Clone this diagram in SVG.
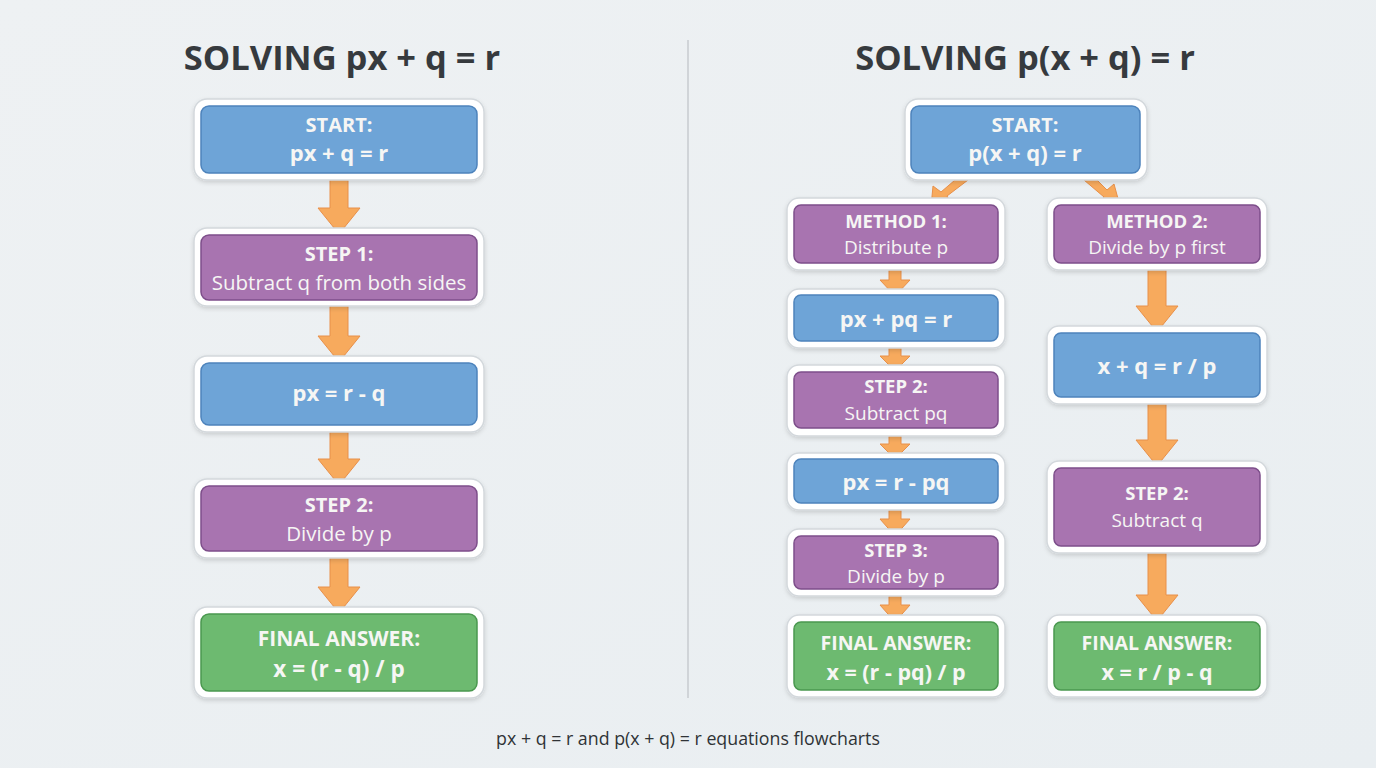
<svg xmlns="http://www.w3.org/2000/svg" width="1376" height="768" viewBox="0 0 1376 768">
<defs>
<linearGradient id="bg" x1="0" y1="0" x2="1" y2="1">
<stop offset="0" stop-color="#eef1f3"/><stop offset="1" stop-color="#e9eef1"/>
</linearGradient>
<filter id="sh" x="-10%" y="-10%" width="120%" height="130%">
<feDropShadow dx="0" dy="2" stdDeviation="2" flood-color="#000" flood-opacity="0.14"/>
</filter>
<style>
.frame{fill:#ffffff;stroke:#d3d8dc;stroke-width:1.5;filter:url(#sh)}
.blue{fill:#6ea4d7;stroke:#4d83bc;stroke-width:1.5}
.purple{fill:#a874b0;stroke:#7d4e8a;stroke-width:1.5}
.green{fill:#6dba70;stroke:#4a984f;stroke-width:1.5}
.arrow{fill:#f7aa5d;stroke:#e8904a;stroke-width:1}
.title{font-family:"Open Sans","Liberation Sans",sans-serif;font-weight:700;font-size:34.5px;fill:#363a3e;text-anchor:middle}
.b{font-family:"Open Sans","Liberation Sans",sans-serif;font-weight:700;fill:#f6f6f4;text-anchor:middle}
.r{font-family:"Open Sans","Liberation Sans",sans-serif;font-weight:400;fill:#f6f6f4;text-anchor:middle}
.cap{font-family:"Open Sans","Liberation Sans",sans-serif;font-size:17.8px;fill:#2f3336;text-anchor:middle}
</style>
</defs>
<rect width="1376" height="768" fill="url(#bg)"/>
<line x1="688" y1="40" x2="688" y2="698" stroke="#c7cbcf" stroke-width="1.5"/>
<text class="title" x="342" y="70">SOLVING px + q = r</text>
<text class="title" x="1025" y="70">SOLVING p(x + q) = r</text>

<g id="connectors">
<polygon class="arrow" points="330,180 348,180 348,208 360,208 339,234 318,208 330,208"/>
<polygon class="arrow" points="330,306 348,306 348,336 360,336 339,362 318,336 330,336"/>
<polygon class="arrow" points="330,432 348,432 348,459 360,459 339,485 318,459 330,459"/>
<polygon class="arrow" points="330,558 348,558 348,587 360,587 339,613 318,587 330,587"/>

<polygon class="arrow" points="955,180 968,180 947,196 952,205 931,207 933,186 941,192"/>
<polygon class="arrow" points="1084,180 1097,180 1107,190 1114,184 1120,206 1099,204 1104,197"/>

<polygon class="arrow" points="889,270 901,270 901,280 910,280 895,296 880,280 889,280"/>
<polygon class="arrow" points="889,348 901,348 901,356 910,356 895,371 880,356 889,356"/>
<polygon class="arrow" points="889,436 901,436 901,444 910,444 895,459 880,444 889,444"/>
<polygon class="arrow" points="889,510 901,510 901,519 910,519 895,536 880,519 889,519"/>
<polygon class="arrow" points="889,596 901,596 901,605 910,605 895,622 880,605 889,605"/>

<polygon class="arrow" points="1148,270 1166,270 1166,306 1178,306 1157,332 1136,306 1148,306"/>
<polygon class="arrow" points="1148,404 1166,404 1166,440 1178,440 1157,466 1136,440 1148,440"/>
<polygon class="arrow" points="1148,553 1166,553 1166,595 1178,595 1157,621 1136,595 1148,595"/>
</g>

<g id="l-start">
<rect class="frame" x="194" y="99" width="290" height="81" rx="13"/>
<rect class="blue" x="201" y="106" width="276" height="67" rx="8"/>
<text class="b" x="339" y="132" font-size="20">START:</text>
<text class="b" x="339" y="161" font-size="22">px + q = r</text>
</g>
<g id="l-step1">
<rect class="frame" x="194" y="228" width="290" height="78" rx="13"/>
<rect class="purple" x="201" y="235" width="276" height="65" rx="8"/>
<text class="b" x="339" y="261" font-size="20">STEP 1:</text>
<text class="r" x="339" y="290" font-size="20.5">Subtract q from both sides</text>
</g>
<g id="l-eq">
<rect class="frame" x="194" y="356" width="290" height="76" rx="13"/>
<rect class="blue" x="201" y="363" width="276" height="62" rx="8"/>
<text class="b" x="339" y="401" font-size="22">px = r - q</text>
</g>
<g id="l-step2">
<rect class="frame" x="194" y="479" width="290" height="79" rx="13"/>
<rect class="purple" x="201" y="486" width="276" height="65" rx="8"/>
<text class="b" x="339" y="512" font-size="20">STEP 2:</text>
<text class="r" x="339" y="541" font-size="20.5">Divide by p</text>
</g>
<g id="l-final">
<rect class="frame" x="194" y="607" width="290" height="91" rx="13"/>
<rect class="green" x="201" y="614" width="276" height="77" rx="8"/>
<text class="b" x="339" y="646" font-size="21">FINAL ANSWER:</text>
<text class="b" x="339" y="677" font-size="22.5">x = (r - q) / p</text>
</g>

<g id="r-start">
<rect class="frame" x="905" y="99" width="242" height="81" rx="13"/>
<rect class="blue" x="911" y="106" width="229" height="67" rx="8"/>
<text class="b" x="1025" y="132" font-size="20">START:</text>
<text class="b" x="1025" y="161" font-size="22">p(x + q) = r</text>
</g>
<g id="m1">
<rect class="frame" x="787" y="198" width="218" height="72" rx="12"/>
<rect class="purple" x="794" y="205" width="204" height="58" rx="7"/>
<text class="b" x="896" y="228" font-size="18.5">METHOD 1:</text>
<text class="r" x="896" y="254" font-size="19">Distribute p</text>
</g>
<g id="m2">
<rect class="frame" x="1047" y="198" width="220" height="72" rx="12"/>
<rect class="purple" x="1054" y="205" width="206" height="58" rx="7"/>
<text class="b" x="1157" y="228" font-size="18.5">METHOD 2:</text>
<text class="r" x="1157" y="254" font-size="19">Divide by p first</text>
</g>
<g id="m1-eq1">
<rect class="frame" x="787" y="289" width="218" height="59" rx="12"/>
<rect class="blue" x="794" y="295" width="204" height="46" rx="7"/>
<text class="b" x="896" y="327" font-size="22">px + pq = r</text>
</g>
<g id="m1-step2">
<rect class="frame" x="787" y="365" width="218" height="71" rx="12"/>
<rect class="purple" x="794" y="372" width="204" height="56" rx="7"/>
<text class="b" x="896" y="393" font-size="18.5">STEP 2:</text>
<text class="r" x="896" y="420" font-size="19">Subtract pq</text>
</g>
<g id="m1-eq2">
<rect class="frame" x="787" y="453" width="218" height="57" rx="12"/>
<rect class="blue" x="794" y="459" width="204" height="44" rx="7"/>
<text class="b" x="896" y="490" font-size="22">px = r - pq</text>
</g>
<g id="m1-step3">
<rect class="frame" x="787" y="529" width="218" height="67" rx="12"/>
<rect class="purple" x="794" y="536" width="204" height="53" rx="7"/>
<text class="b" x="896" y="557" font-size="18.5">STEP 3:</text>
<text class="r" x="896" y="583" font-size="19">Divide by p</text>
</g>
<g id="m1-final">
<rect class="frame" x="787" y="615" width="218" height="82" rx="12"/>
<rect class="green" x="794" y="622" width="204" height="68" rx="7"/>
<text class="b" x="896" y="650" font-size="19.5">FINAL ANSWER:</text>
<text class="b" x="896" y="680" font-size="21.5">x = (r - pq) / p</text>
</g>
<g id="m2-eq">
<rect class="frame" x="1047" y="326" width="220" height="78" rx="12"/>
<rect class="blue" x="1054" y="333" width="206" height="64" rx="7"/>
<text class="b" x="1157" y="374" font-size="22">x + q = r / p</text>
</g>
<g id="m2-step2">
<rect class="frame" x="1047" y="461" width="220" height="92" rx="12"/>
<rect class="purple" x="1054" y="468" width="206" height="78" rx="7"/>
<text class="b" x="1157" y="500" font-size="18.5">STEP 2:</text>
<text class="r" x="1157" y="527" font-size="19">Subtract q</text>
</g>
<g id="m2-final">
<rect class="frame" x="1047" y="615" width="220" height="82" rx="12"/>
<rect class="green" x="1054" y="622" width="206" height="68" rx="7"/>
<text class="b" x="1157" y="650" font-size="19.5">FINAL ANSWER:</text>
<text class="b" x="1157" y="680" font-size="21.5">x = r / p - q</text>
</g>

<text class="cap" x="688" y="745">px + q = r and p(x + q) = r equations flowcharts</text>
</svg>
